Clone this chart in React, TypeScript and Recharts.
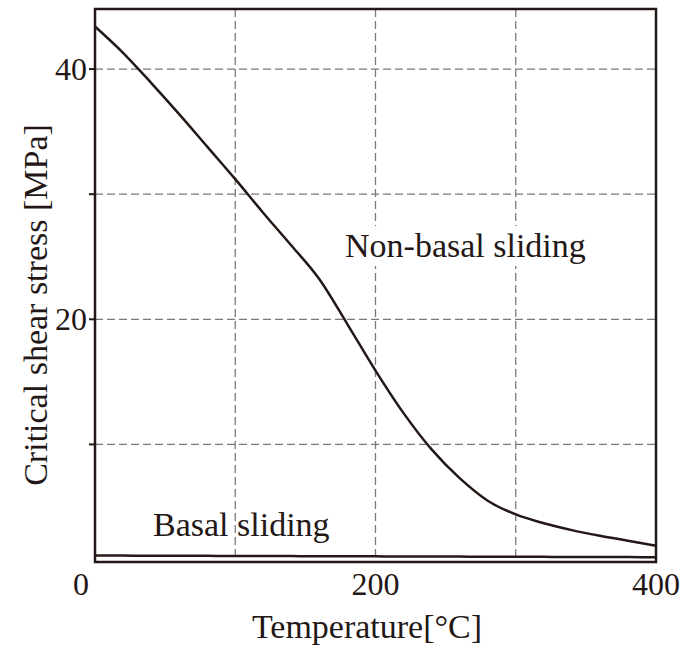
import { LineChart, Line, XAxis, YAxis, CartesianGrid, ReferenceArea } from "recharts";

const temps = [0, 20, 40, 60, 80, 100, 120, 140, 160, 180, 200, 220, 240, 260, 280, 300, 320, 340, 360, 380, 400];
const nonBasal = [43.4, 41.3, 38.9, 36.4, 33.8, 31.2, 28.5, 25.9, 23.2, 19.6, 15.9, 12.5, 9.6, 7.3, 5.5, 4.4, 3.7, 3.15, 2.7, 2.3, 1.9];
const basal = [1.12, 1.11, 1.1, 1.1, 1.09, 1.08, 1.08, 1.07, 1.06, 1.06, 1.05, 1.04, 1.04, 1.03, 1.02, 1.02, 1.01, 1.0, 1.0, 0.99, 0.98];

const xTicks = [0, 100, 200, 300, 400];
const xLabels = [0, 200, 400];
const yTicks = [10, 20, 30, 40];
const yLabels = [20, 40];
const yDomain = [0.6, 44.8];

const data = temps.map((t, i) => ({ t, nonBasal: nonBasal[i], basal: basal[i] }));

const ink = "#231815";
const font = "'Liberation Serif', 'Times New Roman', serif";

function XTick({ x, y, payload }: any) {
  if (!xLabels.includes(payload.value)) return null;
  const dx = payload.value === 0 ? -14 : 0;
  return (
    <text x={x + dx} y={y + 25} textAnchor="middle" fontSize={32} fill={ink} fontFamily={font}>
      {payload.value}
    </text>
  );
}

function YTick({ x, y, payload }: any) {
  if (!yLabels.includes(payload.value)) return null;
  return (
    <text x={x} y={y + 11} textAnchor="end" fontSize={32} fill={ink} fontFamily={font}>
      {payload.value}
    </text>
  );
}

export default function App() {
  return (
    <div style={{ position: "absolute", left: 0, top: 0, width: 684, height: 646, background: "#fff", fontFamily: font }}>
      <LineChart width={684} height={646} data={data} margin={{ top: 9, right: 28, bottom: 24, left: 0 }}>
        <CartesianGrid stroke="#7a7a7a" strokeWidth={1.3} strokeDasharray="8 4" />
        <XAxis
          dataKey="t"
          type="number"
          domain={[0, 400]}
          ticks={xTicks}
          height={60}
          tick={<XTick />}
          tickLine={false}
          axisLine={{ stroke: ink, strokeWidth: 2 }}
          label={() => (
            <text x={367} y={638} textAnchor="middle" fontSize={34} fill={ink} fontFamily={font}>
              Temperature[°C]
            </text>
          )}
        />
        <YAxis
          type="number"
          domain={yDomain}
          ticks={yTicks}
          width={95}
          tick={<YTick />}
          tickSize={6}
          tickLine={{ stroke: ink, strokeWidth: 2 }}
          axisLine={{ stroke: ink, strokeWidth: 2 }}
          label={() => (
            <text x={47} y={305} transform="rotate(-90 47 305)" textAnchor="middle" fontSize={34} fill={ink} fontFamily={font}>
              Critical shear stress [MPa]
            </text>
          )}
        />
        <ReferenceArea x1={0} x2={400} y1={yDomain[0]} y2={yDomain[1]} fill="none" stroke={ink} strokeWidth={2.5} />
        <Line type="monotone" dataKey="nonBasal" stroke={ink} strokeWidth={2.5} dot={false} isAnimationActive={false} />
        <Line type="monotone" dataKey="basal" stroke={ink} strokeWidth={2.5} dot={false} isAnimationActive={false} />
      </LineChart>
      <div
        style={{
          position: "absolute",
          left: 342,
          top: 226,
          padding: "0 3px",
          background: "#fff",
          fontSize: 34,
          lineHeight: "40px",
          color: ink,
          whiteSpace: "nowrap",
        }}
      >
        Non-basal sliding
      </div>
      <div
        style={{
          position: "absolute",
          left: 153,
          top: 505,
          fontSize: 34,
          lineHeight: "40px",
          color: ink,
          whiteSpace: "nowrap",
        }}
      >
        Basal sliding
      </div>
    </div>
  );
}
